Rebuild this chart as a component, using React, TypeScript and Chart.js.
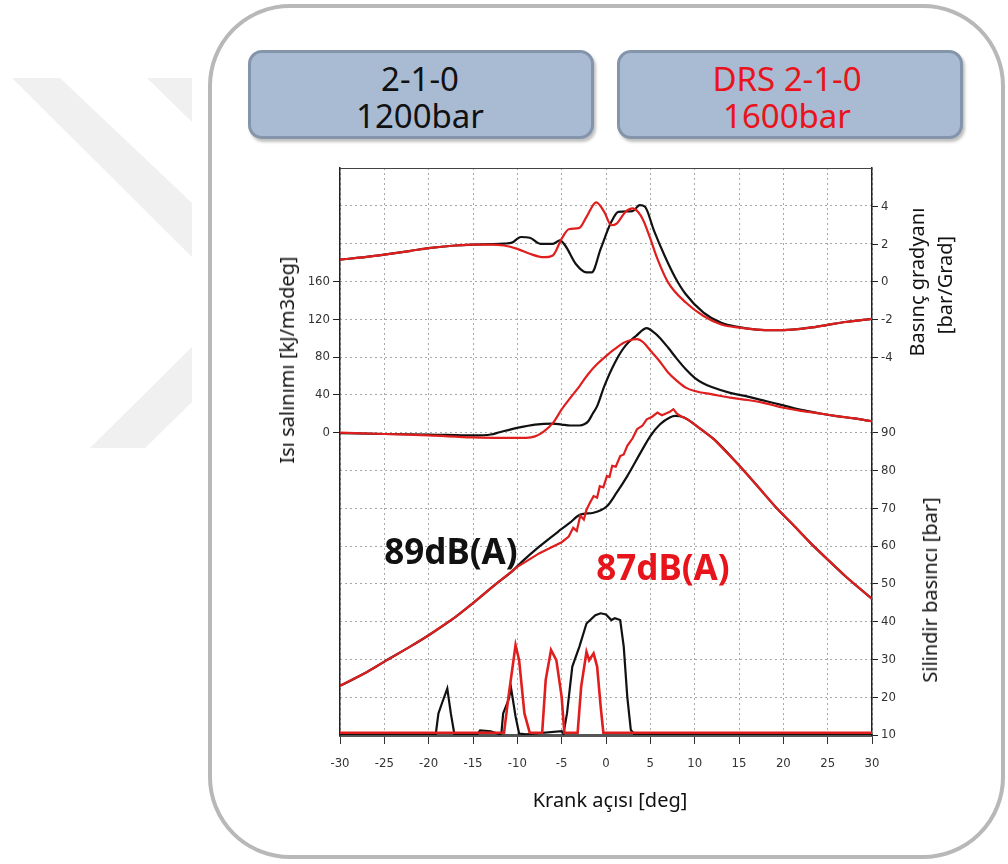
import React, { useEffect, useRef } from 'react';
import { Chart, registerables } from 'chart.js';

Chart.register(...registerables);

const FONT = "'Noto Sans', 'Open Sans', 'DejaVu Sans', sans-serif";
const TICK_FONT = "'Liberation Sans Narrow', 'DejaVu Sans Condensed', 'Liberation Sans', sans-serif";
const RED = '#e01e1e';
const BLACK = '#111111';

// ---- tick labels ----
const crankTickStep = 5;
const heatTickLabels = [0, 40, 80, 120, 160];
const gradTickLabels = [4, 2, 0, -2, -4];
const pressTickLabels = [90, 80, 70, 60, 50, 40, 30, 20, 10];

// ---- pressure gradient [bar/Grad] ----
const gradRedAngle = [-30, -27, -25, -22, -20, -17, -15, -13, -11.5, -10, -8.6, -7, -6, -5, -4.2, -3, -2.2, -1.1, -0.2, 0.6, 1.2, 2.2, 3, 3.6, 4.2, 5, 5.8, 7, 9, 11, 13, 15, 17, 19, 21, 23, 25, 27, 30];
const gradRedValue = [1.15, 1.3, 1.42, 1.62, 1.76, 1.9, 1.95, 1.95, 1.9, 1.72, 1.46, 1.28, 1.37, 2.26, 2.76, 2.83, 3.41, 4.18, 3.68, 2.97, 3.06, 3.68, 3.86, 3.68, 3.24, 2.26, 1.19, -0.05, -1.12, -1.83, -2.28, -2.45, -2.55, -2.58, -2.55, -2.45, -2.3, -2.15, -1.98];
const gradBlackAngle = [-30, -27, -25, -22, -20, -17, -15, -13, -11.5, -10.6, -9.6, -8.6, -7.4, -6, -5.2, -4.6, -3.4, -2.2, -1.6, -0.6, 0.6, 1.4, 3, 3.8, 4.4, 5.4, 6.6, 7.8, 9, 11, 13, 15, 17, 19, 21, 23, 25, 27, 30];
const gradBlackValue = [1.15, 1.3, 1.42, 1.62, 1.76, 1.9, 1.95, 1.97, 2.0, 2.05, 2.35, 2.31, 1.99, 1.99, 2.17, 1.9, 0.92, 0.48, 0.48, 1.72, 3.15, 3.68, 3.72, 4.04, 3.95, 2.7, 1.37, 0.21, -0.68, -1.65, -2.19, -2.42, -2.55, -2.58, -2.55, -2.45, -2.3, -2.15, -1.98];

// ---- heat release [kJ/m3deg] ----
const heatRedAngle = [-30, -25, -20, -15, -12, -9, -8, -7, -6, -5, -4, -3, -2, -1, 0, 1, 2, 3, 3.5, 4.2, 5, 6, 7, 8, 9, 10, 12, 14, 16, 18, 20, 22, 24, 26, 28, 30];
const heatRedValue = [0, -1.5, -3, -5, -5.5, -5.5, -4, 1.4, 10, 24.5, 37, 49, 62, 72.5, 81, 88.5, 95, 98.5, 99, 95.6, 86.8, 76, 63.6, 54.8, 47.6, 44, 40.5, 37, 34.5, 31, 26.3, 23, 20.3, 17.5, 15, 12];
const heatBlackAngle = [-30, -25, -20, -15, -13, -12, -10, -8, -6, -5, -4, -3, -2.4, -2, -1.5, -1, -0.2, 1, 2.2, 3.4, 4.6, 5.4, 6, 7, 8, 9, 10, 11, 12, 14, 16, 18, 20, 22, 24, 26, 28, 30];
const heatBlackValue = [-0.5, -1.5, -2, -3, -2, 0.4, 5, 8.5, 9.6, 8.5, 7.5, 7.5, 9, 12, 20, 28, 49, 74, 92, 102.4, 110.5, 106, 101, 90, 78, 67, 58, 52, 48, 42, 38, 33.4, 28.8, 24, 20.5, 17.5, 15, 12];

// ---- cylinder pressure [bar] ----
const pressRedAngle = [-30, -27, -25, -22, -20, -17, -15, -12.5, -10, -7.5, -5, -4.2, -3.7, -3.3, -2.9, -2.5, -2.2, -1.8, -1.4, -1.0, -0.7, -0.3, 0.1, 0.4, 0.7, 1.1, 1.6, 2.0, 2.4, 3.0, 3.5, 4.1, 4.6, 5.2, 5.8, 6.3, 6.7, 7.2, 7.6, 8.0, 8.4, 9.2, 10.7, 12.2, 15.1, 17.1, 19.1, 21.1, 23.1, 25.1, 27.1, 30];
const pressRedValue = [23, 26.6, 29.4, 33.5, 36.4, 41.2, 44.9, 49.8, 54.5, 58.1, 61, 62.5, 64.8, 64.0, 68.0, 67.0, 69.6, 71.5, 73.2, 72.8, 75.8, 75.5, 78.5, 78.3, 81.2, 81.0, 83.8, 84.2, 86.5, 88.5, 90.9, 91.8, 93.5, 94.2, 95.3, 94.6, 95.0, 95.5, 96.2, 95.0, 94.4, 93.5, 90.9, 88.2, 81.1, 75.8, 70.4, 65.6, 60.7, 56.2, 51.8, 46];
const pressBlackAngle = [-30, -27, -25, -22, -20, -17, -15, -12.5, -10.5, -9.5, -7.5, -5, -4.1, -2.9, -1.4, 0.1, 1.2, 2.4, 3.9, 5.0, 6.1, 7.2, 7.8, 8.8, 10.7, 12.2, 15.1, 17.1, 19.1, 21.1, 23.1, 25.1, 27.1, 30];
const pressBlackValue = [23, 26.6, 29.4, 33.5, 36.4, 41.2, 44.9, 49.8, 53.5, 55.8, 59.9, 64.5, 66.1, 68.3, 68.8, 70.5, 74.1, 78.5, 84.7, 89.1, 92.2, 94.0, 94.4, 94.0, 90.9, 88.2, 81.1, 75.8, 70.4, 65.6, 60.7, 56.2, 51.8, 46];

// ---- injection signal (arbitrary units) ----
const injRedAngle = [-30, -11.5, -11.0, -10.2, -9.8, -9.2, -8.6, -7.2, -6.8, -6.2, -5.6, -5.0, -4.7, -3.2, -2.8, -2.2, -1.9, -1.4, -1.0, -0.6, -0.3, 30];
const injRedValue = [0.6, 0.6, 10.1, 23.8, 19.8, 5.7, 0.6, 0.6, 14.6, 22.5, 19.8, 10.1, 0.6, 0.6, 12.8, 22, 19.8, 21.6, 18.1, 7.5, 0.6, 0.6];
const injBlackAngle = [-30, -19.2, -18.9, -18.5, -17.9, -17.5, -17.1, -14.5, -14.2, -13, -12, -11.8, -11.6, -11.0, -10.7, -10.2, -9.8, -9, -5, -4.8, -4.4, -3.8, -3.0, -2.2, -1.2, -0.6, 0, 0.6, 1.0, 1.6, 2.0, 2.4, 2.8, 3.2, 30];
const injBlackValue = [0.2, 0.2, 5.7, 8.4, 12.3, 5.7, 0.2, 0.2, 1.2, 1, 0.2, 0.4, 5.7, 9.3, 12.3, 4.9, 0.4, 0.2, 1, 0.3, 5.7, 18.1, 23.4, 29.5, 31.7, 32.2, 31.9, 30.4, 30.9, 30.4, 23.4, 10.1, 1.3, 0.2, 0.2];

const pts = (xs: number[], ys: number[]) => xs.map((x, i) => ({ x, y: ys[i] }));

const line = (xs: number[], ys: number[], color: string, axis: string, smooth: boolean, width = 2.2) => ({
  data: pts(xs, ys),
  borderColor: color,
  backgroundColor: color,
  borderWidth: width,
  pointRadius: 0,
  fill: false,
  yAxisID: axis,
  cubicInterpolationMode: smooth ? 'monotone' : 'default',
  tension: 0,
});

const framePlugin = {
  id: 'framePlugin',
  afterDraw(chart: any) {
    const { ctx, chartArea: a, scales } = chart;
    ctx.save();
    ctx.strokeStyle = '#444';
    ctx.lineWidth = 1;
    ctx.beginPath();
    ctx.moveTo(a.left, a.top + 0.5);
    ctx.lineTo(a.right, a.top + 0.5);
    ctx.stroke();
    const yG = scales.yG;
    ctx.fillStyle = '#333';
    ctx.strokeStyle = '#222';
    ctx.font = `13px ${TICK_FONT}`;
    ctx.textAlign = 'left';
    ctx.textBaseline = 'middle';
    gradTickLabels.forEach((v) => {
      const y = Math.round(yG.getPixelForValue(v)) + 0.5;
      ctx.beginPath();
      ctx.moveTo(a.right, y);
      ctx.lineTo(a.right + 6, y);
      ctx.stroke();
      ctx.fillText(String(v), a.right + 9, y);
    });
    ctx.restore();
  },
};

export default function App() {
  const ref = useRef<HTMLCanvasElement>(null);

  useEffect(() => {
    const dotted = [2, 3];
    const chart = new Chart(ref.current as HTMLCanvasElement, {
      type: 'line',
      data: {
        datasets: [
          line(injRedAngle, injRedValue, RED, 'yI', false, 2.6),
          line(gradRedAngle, gradRedValue, RED, 'yG', true),
          line(heatRedAngle, heatRedValue, RED, 'yH', true),
          line(pressRedAngle, pressRedValue, RED, 'yP', false),
          line(gradBlackAngle, gradBlackValue, BLACK, 'yG', true),
          line(heatBlackAngle, heatBlackValue, BLACK, 'yH', true),
          line(pressBlackAngle, pressBlackValue, BLACK, 'yP', true),
          line(injBlackAngle, injBlackValue, BLACK, 'yI', false),
        ] as any,
      },
      options: {
        animation: false,
        responsive: false,
        layout: { padding: { left: 295, right: 91, top: 168, bottom: 94 } },
        plugins: { legend: { display: false }, tooltip: { enabled: false } },
        scales: {
          x: {
            type: 'linear',
            min: -30,
            max: 30,
            ticks: {
              stepSize: crankTickStep,
              color: '#333',
              font: { family: TICK_FONT, size: 13 },
              padding: 12,
              maxRotation: 0,
              callback: (v: any) => String(v),
            },
            grid: { color: '#a8a8a8', lineWidth: 1, tickColor: '#333', tickLength: 9 },
            border: { color: '#555', width: 3, dash: dotted },
            afterFit: (s: any) => {
              s.height = 35;
              s.paddingLeft = 0;
              s.paddingRight = 0;
            },
          },
          yH: {
            type: 'linear',
            position: 'left',
            min: -320,
            max: 280,
            ticks: {
              stepSize: 40,
              color: '#333',
              font: { family: TICK_FONT, size: 13 },
              padding: 3,
              callback: (v: any) => (heatTickLabels.includes(v) ? String(v) : ''),
            },
            grid: {
              drawOnChartArea: false,
              tickLength: 7,
              tickColor: (c: any) => (heatTickLabels.includes(c.tick?.value) ? '#222' : 'rgba(0,0,0,0)'),
            },
            border: { color: '#222', width: 1.5 },
            afterFit: (s: any) => {
              s.width = 45;
              s.paddingTop = 0;
              s.paddingBottom = 0;
            },
          },
          yP: {
            type: 'linear',
            position: 'right',
            min: 10,
            max: 160,
            ticks: {
              stepSize: 10,
              color: '#333',
              font: { family: TICK_FONT, size: 13 },
              padding: 3,
              callback: (v: any) => (pressTickLabels.includes(v) ? String(v) : ''),
            },
            grid: {
              color: '#a8a8a8',
              lineWidth: 1,
              tickLength: 6,
              tickColor: (c: any) => (pressTickLabels.includes(c.tick?.value) ? '#222' : 'rgba(0,0,0,0)'),
            },
            border: { color: '#222', width: 1.5, dash: dotted },
            afterFit: (s: any) => {
              s.width = 45;
              s.paddingTop = 0;
              s.paddingBottom = 0;
            },
          },
          yG: { type: 'linear', display: false, min: -24, max: 6 },
          yI: { type: 'linear', display: false, min: 0, max: 150 },
        },
      } as any,
      plugins: [framePlugin],
    });
    return () => chart.destroy();
  }, []);

  const abs = (extra: React.CSSProperties): React.CSSProperties => ({
    position: 'absolute',
    whiteSpace: 'nowrap',
    fontFamily: FONT,
    lineHeight: 1,
    transform: 'translate(-50%, -50%)',
    ...extra,
  });
  const rot = (extra: React.CSSProperties): React.CSSProperties => ({
    ...abs(extra),
    transform: 'translate(-50%, -50%) rotate(-90deg)',
  });
  const box = (left: number): React.CSSProperties => ({
    position: 'absolute',
    left,
    top: 50,
    width: 340,
    height: 83,
    background: '#a9bbd3',
    border: '3px solid #8394ab',
    borderRadius: 14,
    boxShadow: '2px 3px 3px rgba(0,0,0,0.25)',
  });

  return (
    <div style={{ position: 'fixed', left: 0, top: 0, width: 1008, height: 864, background: '#fff', overflow: 'hidden' }}>
      <svg width={1008} height={864} style={{ position: 'absolute', left: 0, top: 0 }}>
        <polygon points="12,78 60,78 192,203 192,257" fill="#f0f0f0" />
        <polygon points="147,78 192,78 192,122" fill="#f0f0f0" />
        <polygon points="192,347 90,448 145,448 192,402" fill="#f0f0f0" />
        <rect x={210} y={6} width={793} height={851} rx={80} ry={80} fill="none" stroke="#b8b8b8" strokeWidth={4} />
      </svg>
      <div style={box(248)} />
      <div style={box(617)} />
      <div style={abs({ left: 420, top: 78, fontSize: 33, color: '#111' })}>2-1-0</div>
      <div style={abs({ left: 420, top: 115, fontSize: 33, color: '#111' })}>1200bar</div>
      <div style={abs({ left: 787, top: 78, fontSize: 33, color: '#e8141b' })}>DRS 2-1-0</div>
      <div style={abs({ left: 787, top: 115, fontSize: 33, color: '#e8141b' })}>1600bar</div>
      <canvas ref={ref} width={1008} height={864} style={{ position: 'absolute', left: 0, top: 0 }} />
      <div style={abs({ left: 451, top: 550, fontSize: 35, fontWeight: 700, color: '#111' })}>89dB(A)</div>
      <div style={abs({ left: 663, top: 566, fontSize: 35, fontWeight: 700, color: '#e8141b' })}>87dB(A)</div>
      <div style={rot({ left: 287, top: 360, fontSize: 20, color: '#111' })}>Isı salınımı [kJ/m3deg]</div>
      <div style={rot({ left: 917, top: 282, fontSize: 20, color: '#111' })}>Basınç gradyanı</div>
      <div style={rot({ left: 945, top: 285, fontSize: 20, color: '#111' })}>[bar/Grad]</div>
      <div style={rot({ left: 930, top: 590, fontSize: 20, color: '#111' })}>Silindir basıncı [bar]</div>
      <div style={abs({ left: 610, top: 800, fontSize: 20, color: '#111' })}>Krank açısı [deg]</div>
    </div>
  );
}
